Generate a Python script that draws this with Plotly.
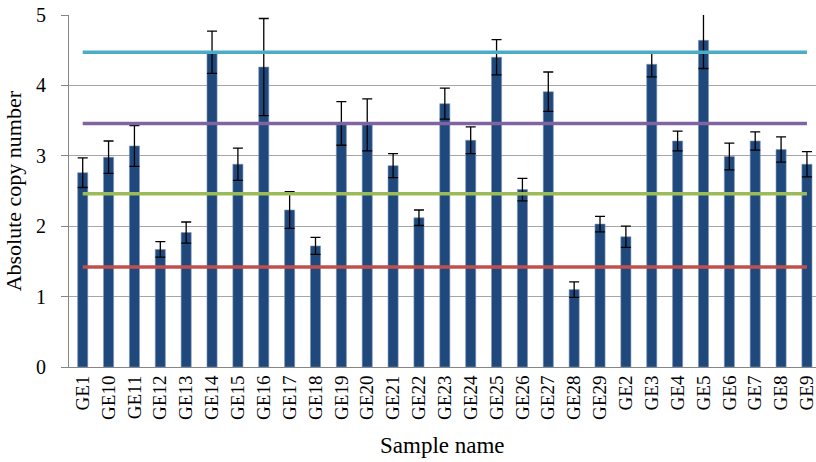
import plotly.graph_objects as go

samples = ["GE1", "GE10", "GE11", "GE12", "GE13", "GE14", "GE15", "GE16", "GE17", "GE18",
           "GE19", "GE20", "GE21", "GE22", "GE23", "GE24", "GE25", "GE26", "GE27", "GE28",
           "GE29", "GE2", "GE3", "GE4", "GE5", "GE6", "GE7", "GE8", "GE9"]
copy_number = [2.76, 2.98, 3.14, 1.67, 1.91, 4.47, 2.88, 4.26, 2.23, 1.72,
               3.46, 3.44, 2.86, 2.12, 3.74, 3.22, 4.40, 2.52, 3.91, 1.10,
               2.03, 1.85, 4.30, 3.21, 4.64, 2.99, 3.21, 3.09, 2.88]
errors = [0.21, 0.23, 0.29, 0.11, 0.15, 0.30, 0.23, 0.69, 0.26, 0.12,
          0.31, 0.37, 0.17, 0.11, 0.22, 0.19, 0.25, 0.16, 0.28, 0.11,
          0.11, 0.15, 0.18, 0.14, 0.40, 0.19, 0.13, 0.18, 0.18]

threshold_names = ["level 1", "level 2", "level 3", "level 4"]
threshold_values = [1.42, 2.46, 3.46, 4.47]
threshold_colors = ["#C0504D", "#9BBB59", "#8064A2", "#4BACC6"]

x_title = "Sample name"
y_title = "Absolute copy number"

font_family = "Liberation Serif"

fig = go.Figure()
fig.add_trace(go.Bar(
    x=samples, y=copy_number,
    marker=dict(color="#1F497D", line=dict(color="#7F93B3", width=0.6)),
    error_y=dict(type="data", array=errors, visible=True, color="black",
                 thickness=1.3, width=5),
    showlegend=False,
))
for name, val, col in zip(threshold_names, threshold_values, threshold_colors):
    fig.add_trace(go.Scatter(
        x=samples, y=[val] * len(samples), mode="lines", name=name,
        line=dict(color=col, width=3.5), showlegend=False, hoverinfo="skip",
    ))

fig.update_layout(
    width=816, height=462,
    margin=dict(l=69, r=0, t=15, b=95),
    plot_bgcolor="white", paper_bgcolor="white",
    bargap=0.61,
    font=dict(family=font_family, color="black"),
    annotations=[
        dict(text=x_title, xref="paper", yref="paper", x=0.5, y=-0.222,
             xanchor="center", yanchor="middle", showarrow=False,
             font=dict(size=23, family=font_family)),
        dict(text=y_title, xref="paper", yref="paper", x=-0.0745, y=0.5,
             xanchor="center", yanchor="middle", showarrow=False, textangle=-90,
             font=dict(size=22, family=font_family)),
    ],
)
fig.update_xaxes(
    type="category", range=[-0.53, 28.35], tickangle=-90,
    tickfont=dict(size=19, family=font_family),
    ticklabeloverflow="allow",
    showline=True, linecolor="#868686", linewidth=1, ticks="",
    showgrid=False, automargin=False,
)
fig.update_yaxes(
    range=[0, 5], dtick=1, tickfont=dict(size=20, family=font_family),
    ticklabeloverflow="allow", ticklabelstandoff=11,
    showgrid=True, gridcolor="#A6A6A6", gridwidth=1,
    showline=True, linecolor="#868686", linewidth=1,
    ticks="outside", ticklen=7, tickcolor="#868686",
    zeroline=False, automargin=False,
)
fig.write_html(
    "out.html",
    config={"displayModeBar": False},
    post_script="document.body.style.margin='0px';document.body.style.overflow='hidden';",
)
